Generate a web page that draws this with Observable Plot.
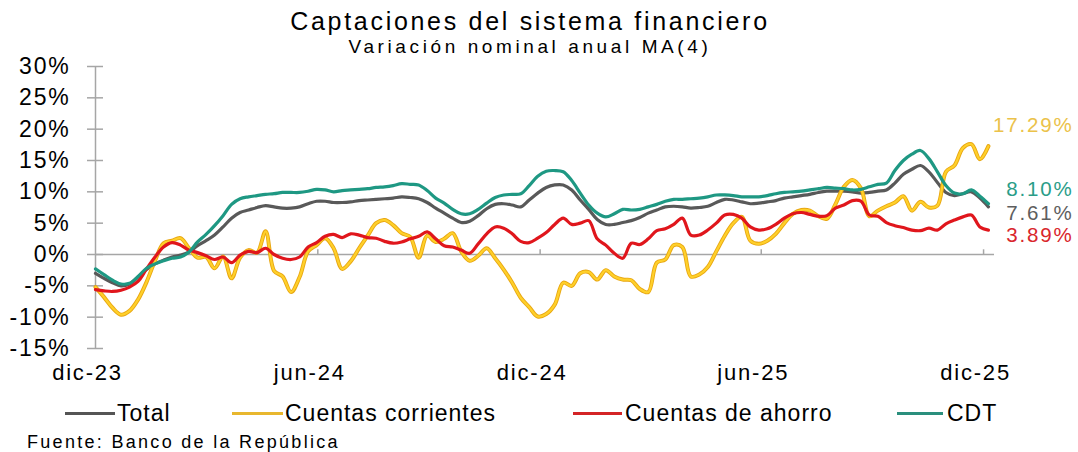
<!DOCTYPE html>
<html>
<head>
<meta charset="utf-8">
<script src="https://cdn.jsdelivr.net/npm/d3@7"></script>
<script src="https://cdn.jsdelivr.net/npm/@observablehq/plot@0.6"></script>
<style>
  html, body { margin: 0; padding: 0; background: #fff; }
  #wrap { position: relative; width: 1078px; height: 452px; font-family: "Liberation Sans", Arial, sans-serif; color: #000; overflow: hidden; }
  .abs { position: absolute; white-space: nowrap; }
  #title { top: 8.5px; left: 0; width: 1060px; text-align: center; font-size: 25px; line-height: 25px; letter-spacing: 2.7px; }
  #subtitle { top: 37px; left: 0; width: 1060px; text-align: center; font-size: 19px; line-height: 19px; letter-spacing: 3.6px; }
  #chart { top: 58px; left: 0; }
  .lg-line { position: absolute; height: 3px; top: 411.5px; }
  .lg-text { position: absolute; top: 402px; font-size: 23px; line-height: 23px; letter-spacing: 1px; }
  #source { top: 433px; left: 27px; font-size: 18px; line-height: 18px; letter-spacing: 2.3px; }
</style>
</head>
<body>
<div id="wrap">
  <div id="title" class="abs">Captaciones del sistema financiero</div>
  <div id="subtitle" class="abs">Variación nominal anual MA(4)</div>
  <div id="chart" class="abs"></div>
  <div id="legend"></div>
  <div id="source" class="abs">Fuente: Banco de la República</div>
</div>
<script>
// ---- Data (weekly, % annual nominal variation, MA(4)) ----
const startDate = "2023-12-01";
const seriesNames = ["Total", "Cuentas corrientes", "Cuentas de ahorro", "CDT"];

const total = [-3.0,-3.8,-4.5,-5.0,-4.7,-3.6,-2.4,-1.5,-0.9,-0.4,
-0.1,0.4,1.4,2.2,3.1,4.4,5.8,6.7,7.1,7.5,
7.8,7.6,7.4,7.4,7.6,8.1,8.5,8.5,8.3,8.3,
8.4,8.6,8.7,8.8,8.9,9.0,9.2,9.1,8.9,8.3,
7.4,6.6,5.8,5.1,5.3,6.2,7.3,8.0,8.1,7.9,
7.6,8.7,9.8,10.7,11.1,11.1,10.3,8.7,7.2,5.6,
4.8,4.8,5.1,5.4,5.9,6.6,7.1,7.6,7.7,7.6,
7.4,7.5,7.7,8.3,8.8,8.7,8.4,8.1,8.2,8.4,
8.6,9.0,9.2,9.4,9.6,9.9,10.1,10.1,10.1,10.0,
9.8,9.9,10.1,10.3,11.4,12.8,13.6,14.2,13.2,11.5,
9.9,9.4,9.7,10.0,9.0,7.61];

const corrientes = [-5.2,-6.8,-8.5,-9.6,-9.0,-7.2,-4.4,-1.0,1.8,2.2,
2.6,1.0,-0.5,-0.4,-2.2,-0.3,-3.8,-0.5,0.7,0.3,
3.7,-2.6,-3.5,-6.0,-3.6,0.5,1.5,2.6,1.0,-2.3,
-1.1,1.0,3.0,5.0,5.5,4.7,3.4,2.8,-0.5,3.0,
2.0,2.5,3.4,0.5,-1.0,-0.2,1.0,-0.6,-2.4,-4.5,
-6.9,-8.4,-9.9,-9.5,-8.0,-4.5,-5.0,-3.0,-2.8,-4.0,
-2.5,-3.5,-4.0,-4.1,-5.5,-6.0,-1.3,-0.8,1.5,1.2,
-3.5,-3.2,-2.0,0.5,3.0,5.0,6.0,2.2,1.7,2.2,
3.3,5.0,6.5,7.1,7.0,6.1,5.7,8.0,10.8,11.9,
10.6,6.1,7.0,7.7,8.3,9.3,7.0,8.4,7.5,7.8,
13.2,14.2,17.0,17.6,15.2,17.29];

const ahorro = [-5.6,-5.8,-5.9,-5.7,-5.2,-4.3,-2.3,-0.4,1.2,1.9,
1.5,0.7,0.3,-0.2,-0.8,-0.4,-1.3,-0.1,0.5,0.3,
1.0,0.0,-0.6,-0.8,-0.4,1.2,1.9,2.9,3.2,2.7,
3.3,3.1,2.7,2.6,2.1,1.8,2.0,2.5,2.9,3.6,
2.5,1.4,1.2,0.7,0.2,1.7,3.3,4.4,4.2,3.3,
2.1,1.9,2.6,3.5,4.8,5.8,4.8,5.0,5.4,2.5,
1.5,0.2,-0.6,1.8,1.6,2.5,3.8,4.1,4.8,5.8,
3.1,3.1,3.9,5.0,6.3,6.4,5.8,4.4,3.9,4.1,
4.8,5.8,6.5,6.7,6.4,6.1,6.2,7.4,7.9,8.6,
8.5,6.3,6.1,5.1,4.6,4.3,3.9,3.8,4.2,3.9,
4.9,5.5,6.0,6.3,4.4,3.89];

const cdt = [-2.3,-3.2,-4.1,-4.7,-4.6,-3.5,-2.2,-1.5,-1.0,-0.6,
-0.4,0.4,2.0,3.2,4.6,6.2,8.0,8.9,9.2,9.4,
9.6,9.7,9.9,9.9,9.9,10.1,10.4,10.3,10.0,10.2,
10.3,10.4,10.5,10.7,10.8,11.0,11.3,11.2,11.1,10.2,
9.0,8.2,7.2,6.5,6.5,7.2,8.2,9.1,9.5,9.6,
9.7,11.0,12.5,13.3,13.4,13.2,11.8,9.8,7.9,6.6,
6.0,6.5,7.2,7.1,7.2,7.6,8.0,8.5,8.8,8.8,
8.9,9.0,9.2,9.5,9.5,9.4,9.2,9.2,9.2,9.4,
9.7,9.9,10.0,10.1,10.3,10.5,10.7,10.6,10.5,10.3,
10.4,10.8,11.2,11.4,13.4,15.0,16.0,16.6,15.3,13.2,
11.0,9.8,9.7,10.3,9.3,8.10];

const endLabels = ["7.61%", "17.29%", "3.89%", "8.10%"];
const tickDates = ["2023-12-01", "2024-06-01", "2024-12-01", "2025-06-01", "2025-12-01"];
const tickLabels = ["dic-23", "jun-24", "dic-24", "jun-25", "dic-25"];
const yTicks = [-15, -10, -5, 0, 5, 10, 15, 20, 25, 30];

// ---- Styles ----
const colors = ["#595959", "#F5C316", "#E0161C", "#1E9883"];
const labelColors = ["#5E5E5E", "#EBC24A", "#D9262C", "#2A9D88"];
const labelDy = [7, -21, 5, -14];

// ---- Build table ----
const t0 = new Date(startDate + "T00:00:00Z");
const week = i => new Date(t0.getTime() + i * 7 * 86400000);
const valuesBySeries = [total, corrientes, ahorro, cdt];
const rows = valuesBySeries.map((vals, s) => vals.map((v, i) => ({series: seriesNames[s], date: week(i), value: v})));
const ticks = tickDates.map(d => new Date(d + "T00:00:00Z"));
const xDomain = [t0, new Date("2025-12-10T00:00:00Z")];
const font = '"Liberation Sans", Arial, sans-serif';
const grid = "#A6A6A6";

const marks = [
  Plot.ruleY([0], {stroke: grid, strokeWidth: 1.5}),
  Plot.ruleX(ticks.slice(1), {y1: 0, y2: 0.75, stroke: grid, strokeWidth: 1.5}),
  Plot.ruleX([t0], {y1: -15, y2: 30, stroke: grid, strokeWidth: 1.5}),
  Plot.ruleY(yTicks, {x1: t0, x2: t0, insetLeft: -8, insetRight: -8, stroke: grid, strokeWidth: 1.5}),
  Plot.axisY({ticks: yTicks, tickSize: 0, tickPadding: 25, tickFormat: d => d + "%", fontSize: 23, fill: "#000", label: null}),
  Plot.axisX({ticks: ticks, tickSize: 0, tickPadding: 16, dx: -8, fontSize: 22, fill: "#000", label: null,
    tickFormat: d => tickLabels[ticks.findIndex(t => +t === +d)]}),
  // Total
  Plot.line(rows[0], {x: "date", y: "value", stroke: colors[0], strokeWidth: 3.2, curve: "catmull-rom"}),
  // Cuentas corrientes (gold with darker rim)
  Plot.line(rows[1], {x: "date", y: "value", stroke: "#E8A712", strokeWidth: 4, curve: "catmull-rom"}),
  Plot.line(rows[1], {x: "date", y: "value", stroke: "#FFD02A", strokeWidth: 2.2, curve: "catmull-rom"}),
  // Cuentas de ahorro
  Plot.line(rows[2], {x: "date", y: "value", stroke: colors[2], strokeWidth: 3.2, curve: "catmull-rom"}),
  // CDT
  Plot.line(rows[3], {x: "date", y: "value", stroke: colors[3], strokeWidth: 3.2, curve: "catmull-rom"})
];

rows.forEach((r, s) => {
  const last = r[r.length - 1];
  marks.push(Plot.text([last], {x: "date", y: "value", text: () => endLabels[s], fill: labelColors[s],
    textAnchor: "end", dx: 85, dy: labelDy[s], fontSize: 20.5}));
});

const chart = Plot.plot({
  width: 1078,
  height: 335,
  marginTop: 8,
  marginBottom: 45,
  marginLeft: 95,
  marginRight: 84,
  x: {type: "utc", domain: xDomain, axis: null},
  y: {domain: [-15, 30], axis: null},
  style: {fontFamily: font, background: "transparent", letterSpacing: "1.8px", overflow: "visible"},
  marks
});
document.getElementById("chart").appendChild(chart);

// ---- Legend ----
const legendPos = [
  {line: 65, w: 50, text: 117},
  {line: 232, w: 51, text: 285},
  {line: 573, w: 49, text: 625},
  {line: 897, w: 46, text: 947}
];
const legendColors = ["#555555", "#E8B72E", "#D42426", "#2A8F7D"];
const lg = document.getElementById("legend");
seriesNames.forEach((name, i) => {
  const l = document.createElement("div");
  l.className = "lg-line";
  l.style.left = legendPos[i].line + "px";
  l.style.width = legendPos[i].w + "px";
  l.style.background = legendColors[i];
  lg.appendChild(l);
  const t = document.createElement("div");
  t.className = "lg-text";
  t.style.left = legendPos[i].text + "px";
  t.textContent = name;
  lg.appendChild(t);
});
</script>
</body>
</html>
